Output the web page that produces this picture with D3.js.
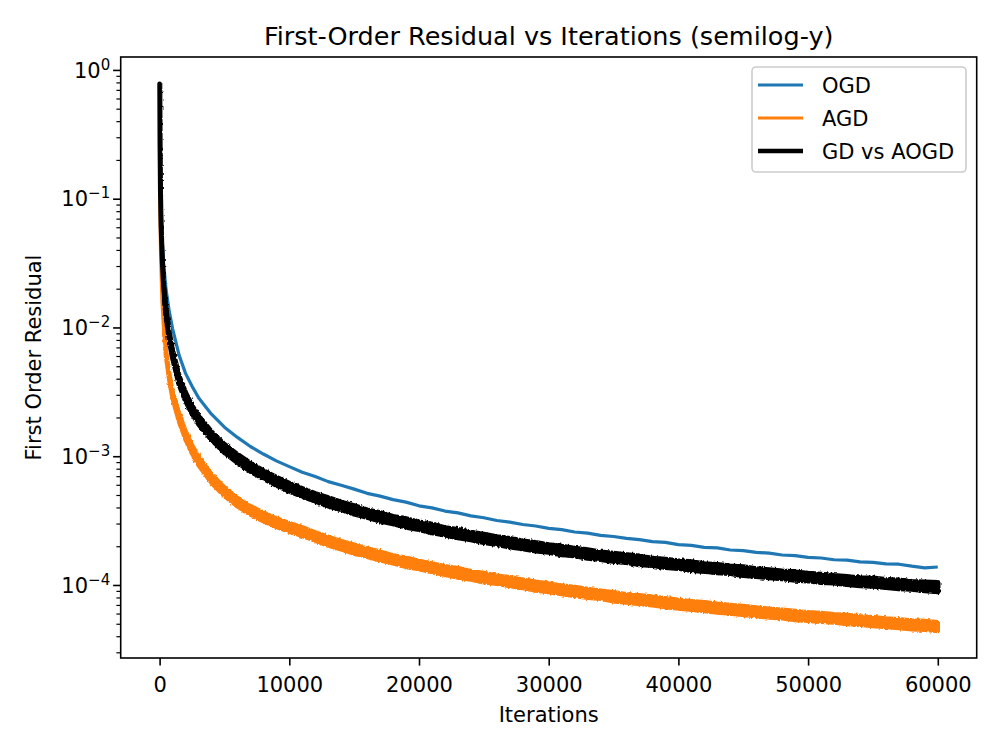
<!DOCTYPE html>
<html lang="en">
<head>
<meta charset="UTF-8">
<title>First-Order Residual vs Iterations (semilog-y)</title>
<script src="https://d3js.org/d3.v7.min.js"></script>
<style>
    body { margin: 0; background: #fff; }
    svg text { font-family: "DejaVu Sans", sans-serif; fill: #000; }
</style>
</head>
<body>
<div id="chart"></div>
<script>
// Iteration grid the series were read at
const iterations = [0, 20, 50, 100, 200, 300, 500, 750, 1000, 1500, 2000, 2500, 3000, 4000, 5000, 6000, 7000, 8000, 9000, 10000,
    11000, 12000, 13000, 14000, 15000, 16000, 17000, 18000, 19000, 20000,
    21000, 22000, 23000, 24000, 25000, 26000, 27000, 28000, 29000, 30000,
    31000, 32000, 33000, 34000, 35000, 36000, 37000, 38000, 39000, 40000,
    41000, 42000, 43000, 44000, 45000, 46000, 47000, 48000, 49000, 50000,
    51000, 52000, 53000, 54000, 55000, 56000, 57000, 58000, 59000, 60000];

// OGD (thin line)
const ogd = [0.78, 0.32, 0.16, 0.088, 0.047, 0.032, 0.0195, 0.0132, 0.0098, 0.0061, 0.0044, 0.0035, 0.00285, 0.00212, 0.00168, 0.0014, 0.00119, 0.00104, 0.00092, 0.00083,
    7.5e-4, 6.95e-4, 6.35e-4, 5.95e-4, 5.55e-4, 5.15e-4, 4.9e-4, 4.6e-4, 4.4e-4, 4.12e-4,
    3.97e-4, 3.75e-4, 3.63e-4, 3.44e-4, 3.33e-4, 3.17e-4, 3.08e-4, 2.95e-4, 2.87e-4, 2.75e-4,
    2.69e-4, 2.58e-4, 2.53e-4, 2.43e-4, 2.38e-4, 2.3e-4, 2.25e-4, 2.17e-4, 2.14e-4, 2.06e-4,
    2.03e-4, 1.96e-4, 1.94e-4, 1.87e-4, 1.85e-4, 1.79e-4, 1.77e-4, 1.71e-4, 1.69e-4, 1.64e-4,
    1.62e-4, 1.57e-4, 1.56e-4, 1.51e-4, 1.5e-4, 1.46e-4, 1.45e-4, 1.4e-4, 1.36e-4, 1.38e-4];

// AGD noisy band (upper / lower envelope)
const agdHigh = [0.78, 0.2, 0.075, 0.035, 0.0168, 0.0113, 0.0065, 0.00435, 0.00321, 0.00216, 0.00157, 0.00122, 0.000995, 0.000724, 0.000572, 0.000475, 0.00041, 0.000365, 0.000329, 0.000302,
    2.8e-4, 2.56e-4, 2.37e-4, 2.19e-4, 2.06e-4, 1.92e-4, 1.82e-4, 1.7e-4, 1.63e-4, 1.54e-4,
    1.47e-4, 1.4e-4, 1.35e-4, 1.28e-4, 1.24e-4, 1.18e-4, 1.15e-4, 1.1e-4, 1.06e-4, 1.03e-4,
    9.9e-5, 9.65e-5, 9.3e-5, 9.05e-5, 8.8e-5, 8.5e-5, 8.35e-5, 8.1e-5, 7.9e-5, 7.68e-5,
    7.5e-5, 7.35e-5, 7.15e-5, 7.0e-5, 6.87e-5, 6.7e-5, 6.55e-5, 6.42e-5, 6.28e-5, 6.15e-5,
    6.06e-5, 5.93e-5, 5.85e-5, 5.72e-5, 5.63e-5, 5.5e-5, 5.42e-5, 5.3e-5, 5.25e-5, 5.15e-5];
const agdLow = [0.78, 0.2, 0.075, 0.035, 0.0162, 0.0107, 0.0059, 0.00387, 0.0028, 0.00185, 0.00134, 0.00105, 0.000852, 0.00062, 0.00049, 0.000407, 0.000352, 0.000313, 0.000282, 0.000259,
    2.4e-4, 2.21e-4, 2.02e-4, 1.89e-4, 1.75e-4, 1.65e-4, 1.55e-4, 1.47e-4, 1.38e-4, 1.33e-4,
    1.26e-4, 1.2e-4, 1.14e-4, 1.1e-4, 1.05e-4, 1.02e-4, 9.8e-5, 9.45e-5, 9.05e-5, 8.8e-5,
    8.5e-5, 8.2e-5, 7.95e-5, 7.8e-5, 7.48e-5, 7.3e-5, 7.1e-5, 6.95e-5, 6.73e-5, 6.57e-5,
    6.42e-5, 6.28e-5, 6.1e-5, 6.0e-5, 5.85e-5, 5.74e-5, 5.58e-5, 5.5e-5, 5.35e-5, 5.27e-5,
    5.17e-5, 5.1e-5, 4.98e-5, 4.9e-5, 4.8e-5, 4.72e-5, 4.62e-5, 4.53e-5, 4.48e-5, 4.38e-5];

// GD vs AOGD noisy band (upper / lower envelope)
const gdHigh = [0.78, 0.26, 0.115, 0.062, 0.0326, 0.0216, 0.0133, 0.00893, 0.00657, 0.00417, 0.0031, 0.00246, 0.00205, 0.00154, 0.00123, 0.00103, 0.000877, 0.00077, 0.000685, 0.000615,
    5.6e-4, 5.1e-4, 4.75e-4, 4.38e-4, 4.12e-4, 3.82e-4, 3.63e-4, 3.4e-4, 3.26e-4, 3.07e-4,
    2.95e-4, 2.78e-4, 2.69e-4, 2.56e-4, 2.47e-4, 2.36e-4, 2.29e-4, 2.19e-4, 2.13e-4, 2.05e-4,
    1.99e-4, 1.92e-4, 1.87e-4, 1.8e-4, 1.76e-4, 1.71e-4, 1.67e-4, 1.61e-4, 1.58e-4, 1.54e-4,
    1.51e-4, 1.46e-4, 1.44e-4, 1.4e-4, 1.38e-4, 1.33e-4, 1.31e-4, 1.28e-4, 1.26e-4, 1.23e-4,
    1.21e-4, 1.18e-4, 1.16e-4, 1.13e-4, 1.13e-4, 1.1e-4, 1.09e-4, 1.06e-4, 1.05e-4, 1.04e-4];
const gdLow = [0.78, 0.26, 0.115, 0.062, 0.0314, 0.0204, 0.0123, 0.0081, 0.00585, 0.00364, 0.00271, 0.00215, 0.00179, 0.00135, 0.00107, 0.000897, 0.000766, 0.000673, 0.000598, 0.000537,
    4.89e-4, 4.5e-4, 4.12e-4, 3.86e-4, 3.57e-4, 3.37e-4, 3.15e-4, 3.0e-4, 2.82e-4, 2.7e-4,
    2.55e-4, 2.45e-4, 2.33e-4, 2.25e-4, 2.14e-4, 2.07e-4, 1.98e-4, 1.92e-4, 1.84e-4, 1.8e-4,
    1.72e-4, 1.69e-4, 1.62e-4, 1.58e-4, 1.53e-4, 1.5e-4, 1.44e-4, 1.42e-4, 1.37e-4, 1.35e-4,
    1.3e-4, 1.28e-4, 1.25e-4, 1.23e-4, 1.19e-4, 1.17e-4, 1.14e-4, 1.12e-4, 1.09e-4, 1.08e-4,
    1.05e-4, 1.04e-4, 1.01e-4, 9.9e-5, 9.8e-5, 9.6e-5, 9.4e-5, 9.3e-5, 9.05e-5, 8.9e-5];

const seriesNames = ["OGD", "AGD", "GD vs AOGD"];
const xTicks = [0, 10000, 20000, 30000, 40000, 50000, 60000];
const yExponents = [-4, -3, -2, -1, 0];

// Layout (axes box in page pixels)
const W = 1000, H = 750;
const box = {left: 120.7, right: 976.7, top: 57, bottom: 658};
const colors = {ogd: "#1f77b4", agd: "#ff7f0e", gd: "#000000"};

const svg = d3.select("#chart").append("svg")
    .attr("width", W).attr("height", H);

const x = d3.scaleLinear().domain([-3000, 63000]).range([box.left, box.right]);
const y = d3.scaleLog().domain([2.71e-5, 1.26]).range([box.bottom, box.top]);

// edge roughening for the noisy bands; region starts right of the initial drop
const filt = svg.append("defs").append("filter")
    .attr("id", "rough")
    .attr("filterUnits", "userSpaceOnUse")
    .attr("x", x(250)).attr("y", 0).attr("width", W).attr("height", H);
filt.append("feTurbulence")
    .attr("type", "fractalNoise")
    .attr("baseFrequency", "0.6 0.35")
    .attr("numOctaves", 1)
    .attr("seed", 3)
    .attr("result", "noise");
filt.append("feDisplacementMap")
    .attr("in", "SourceGraphic")
    .attr("in2", "noise")
    .attr("scale", 3.5)
    .attr("xChannelSelector", "R")
    .attr("yChannelSelector", "G");

// Series
const line = d3.line().x((d, i) => x(iterations[i])).y(d => y(d));

svg.append("path")
    .datum(ogd)
    .attr("fill", "none")
    .attr("stroke", colors.ogd)
    .attr("stroke-width", 3.2)
    .attr("stroke-linejoin", "round")
    .attr("d", line);

const area = d3.area()
    .x(d => x(d.k))
    .y0(d => y(d.lo))
    .y1(d => y(d.hi));

function band(lo, hi, color, sw) {
    const rows = iterations.map((k, i) => ({k, lo: lo[i], hi: hi[i]}));
    const g = svg.append("g");
    // clean initial drop
    g.append("path")
        .datum(rows.filter(d => d.k <= 500))
        .attr("fill", color)
        .attr("stroke", color)
        .attr("stroke-width", sw * 0.85)
        .attr("stroke-linejoin", "round")
        .attr("d", area);
    // noisy tail
    g.append("path")
        .datum(rows)
        .attr("fill", color)
        .attr("stroke", color)
        .attr("stroke-width", sw)
        .attr("stroke-linejoin", "round")
        .attr("filter", "url(#rough)")
        .attr("d", area);
}
band(agdLow, agdHigh, colors.agd, 4.4);
band(gdLow, gdHigh, colors.gd, 5.4);

// X axis
const xAxis = svg.append("g")
    .attr("transform", `translate(0,${box.bottom})`)
    .call(d3.axisBottom(x).tickValues(xTicks).tickFormat(d3.format("d"))
        .tickSize(7.6).tickPadding(11).tickSizeOuter(0));
xAxis.select(".domain").remove();
xAxis.selectAll(".tick line").attr("stroke-width", 1.6);
xAxis.selectAll(".tick text").style("font-size", "21px").attr("font-family", null);

// Y axis: major ticks with custom 10^n labels, plus minor ticks
const majors = yExponents.map(e => Math.pow(10, e));
const minors = [];
for (let e = -5; e <= 0; e++) {
    for (let m = 2; m <= 9; m++) {
        const v = m * Math.pow(10, e);
        if (v >= y.domain()[0] && v <= y.domain()[1]) minors.push(v);
    }
}
const yMajor = svg.append("g")
    .attr("transform", `translate(${box.left},0)`)
    .call(d3.axisLeft(y).tickValues(majors).tickFormat("").tickSize(7.6).tickSizeOuter(0));
yMajor.select(".domain").remove();
yMajor.selectAll(".tick line").attr("stroke-width", 1.6);

const yMinor = svg.append("g")
    .attr("transform", `translate(${box.left},0)`)
    .call(d3.axisLeft(y).tickValues(minors).tickFormat("").tickSize(4.3).tickSizeOuter(0));
yMinor.select(".domain").remove();
yMinor.selectAll(".tick line").attr("stroke-width", 1.2);

const yLabels = svg.append("g");
yExponents.forEach(e => {
    const t = yLabels.append("text")
        .attr("x", box.left - 10.5)
        .attr("y", y(Math.pow(10, e)) + 7.7)
        .attr("text-anchor", "end")
        .style("font-size", "21px");
    t.append("tspan").text("10");
    t.append("tspan")
        .attr("dy", -8)
        .style("font-size", "15px")
        .text(e < 0 ? "\u2212" + Math.abs(e) : String(e));
});

// Frame
svg.append("rect")
    .attr("x", box.left).attr("y", box.top)
    .attr("width", box.right - box.left).attr("height", box.bottom - box.top)
    .attr("fill", "none").attr("stroke", "#000").attr("stroke-width", 1.6);

// Title and axis labels
const cx = (box.left + box.right) / 2;
svg.append("text")
    .attr("x", cx).attr("y", 45)
    .attr("text-anchor", "middle")
    .style("font-size", "25.5px")
    .text("First-Order Residual vs Iterations (semilog-y)");

svg.append("text")
    .attr("x", cx).attr("y", 722)
    .attr("text-anchor", "middle")
    .style("font-size", "21px")
    .text("Iterations");

svg.append("text")
    .attr("transform", `translate(41,${(box.top + box.bottom) / 2}) rotate(-90)`)
    .attr("text-anchor", "middle")
    .style("font-size", "21px")
    .text("First Order Residual");

// Legend
const legend = svg.append("g");
legend.append("rect")
    .attr("x", 752).attr("y", 67)
    .attr("width", 214).attr("height", 105)
    .attr("rx", 4)
    .attr("fill", "#fff").attr("fill-opacity", 0.8)
    .attr("stroke", "#cccccc").attr("stroke-width", 1.6);

const legendItems = [
    {name: seriesNames[0], color: colors.ogd, sw: 3.2},
    {name: seriesNames[1], color: colors.agd, sw: 3.2},
    {name: seriesNames[2], color: colors.gd, sw: 4.5}
];
legendItems.forEach((d, i) => {
    const ly = 85 + i * 33;
    legend.append("line")
        .attr("x1", 758).attr("x2", 803)
        .attr("y1", ly).attr("y2", ly)
        .attr("stroke", d.color).attr("stroke-width", d.sw);
    legend.append("text")
        .attr("x", 822).attr("y", ly + 7.7)
        .style("font-size", "21px")
        .text(d.name);
});
</script>
</body>
</html>
